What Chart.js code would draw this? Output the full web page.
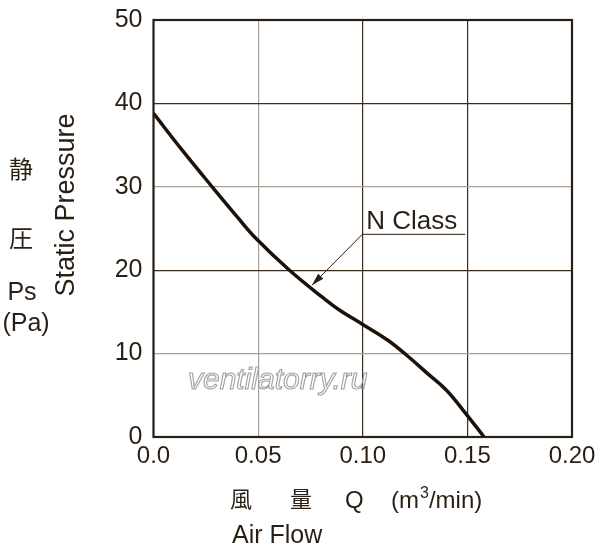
<!DOCTYPE html>
<html>
<head>
<meta charset="utf-8">
<script src="https://cdn.jsdelivr.net/npm/chart.js@4.4.1/dist/chart.umd.min.js"></script>
<style>
  html, body { margin: 0; padding: 0; background: #fff; }
  #wrap { width: 600px; height: 558px; }
</style>
</head>
<body>
<div id="wrap"><canvas id="chart" width="600" height="558"></canvas></div>
<script>
// air flow (m3/min) and static pressure (Pa)
const flow = [0, 0.014, 0.029, 0.040, 0.049, 0.065, 0.081, 0.089, 0.100, 0.112, 0.121, 0.131, 0.140, 0.148, 0.158];
const pressure = [38.8, 34.3, 29.7, 26.4, 23.8, 20.0, 16.7, 15.2, 13.5, 11.6, 9.8, 7.6, 5.6, 3.2, 0];
const xTicks = [0, 0.05, 0.10, 0.15, 0.20];
const xTickLabels = ['0.0', '0.05', '0.10', '0.15', '0.20'];
const yTicks = [0, 10, 20, 30, 40, 50];
const seriesName = 'N Class';

const INK = '#2a1f14';
const DARK_GRID = '#3a2c1c';
const LIGHT_GRID = '#a8a298';
const darkX = [0.10, 0.15];
const darkY = [20, 40];

// label "N Class" + leader arrow, in data units
const callout = { textX: 0.1017, textY: 24.9, lineEndX: 0.149, elbowX: 0.0998, elbowY: 24.3, tipX: 0.0757, tipY: 18.2 };

const near = (list, v) => list.some(d => Math.abs(d - v) < 1e-6);

const decorations = {
  id: 'decorations',
  beforeDatasetsDraw(chart) {
    const { ctx, chartArea: a } = chart;
    ctx.save();
    ctx.strokeStyle = INK;
    ctx.lineWidth = 2.2;
    ctx.strokeRect(a.left, a.top, a.right - a.left, a.bottom - a.top);

    // watermark
    ctx.font = 'italic 30px "Liberation Sans", Arial, sans-serif';
    ctx.strokeStyle = '#a0a0a0';
    ctx.lineWidth = 1.1;
    ctx.textBaseline = 'alphabetic';
    ctx.strokeText('ventilatorry.ru', 188, 389);
    ctx.restore();
  },
  afterDraw(chart) {
    const { ctx, scales: { x, y } } = chart;
    ctx.save();
    ctx.fillStyle = INK;
    ctx.strokeStyle = INK;
    ctx.textBaseline = 'alphabetic';

    // callout
    ctx.font = '26px "Liberation Sans", Arial, sans-serif';
    ctx.textAlign = 'left';
    ctx.fillText(seriesName, x.getPixelForValue(callout.textX), y.getPixelForValue(callout.textY));
    const ex = x.getPixelForValue(callout.elbowX), ey = y.getPixelForValue(callout.elbowY);
    const tx = x.getPixelForValue(callout.tipX), ty = y.getPixelForValue(callout.tipY);
    ctx.lineWidth = 1;
    ctx.beginPath();
    ctx.moveTo(x.getPixelForValue(callout.lineEndX), ey);
    ctx.lineTo(ex, ey);
    ctx.lineTo(tx, ty);
    ctx.stroke();
    const ang = Math.atan2(ty - ey, tx - ex);
    const len = 13, half = 0.28;
    ctx.beginPath();
    ctx.moveTo(tx, ty);
    ctx.lineTo(tx - len * Math.cos(ang - half), ty - len * Math.sin(ang - half));
    ctx.lineTo(tx - len * Math.cos(ang + half), ty - len * Math.sin(ang + half));
    ctx.closePath();
    ctx.fill();

    // left side labels
    ctx.textAlign = 'center';
    ctx.font = '24px "Noto Sans CJK JP", sans-serif';
    ctx.fillText('静', 21, 178);
    ctx.fillText('圧', 21, 247);
    ctx.font = '25px "Liberation Sans", Arial, sans-serif';
    ctx.fillText('Ps', 22, 300);
    ctx.fillText('(Pa)', 26, 331);

    ctx.save();
    ctx.translate(74, 205);
    ctx.rotate(-Math.PI / 2);
    ctx.font = '27px "Liberation Sans", Arial, sans-serif';
    ctx.fillText('Static Pressure', 0, 0);
    ctx.restore();

    // bottom labels
    ctx.textAlign = 'left';
    ctx.font = '22px "Noto Sans CJK JP", sans-serif';
    ctx.fillText('風', 230, 507);
    ctx.fillText('量', 290, 507);
    ctx.font = '24px "Liberation Sans", Arial, sans-serif';
    ctx.fillText('Q', 345, 508);
    ctx.fillText('(m', 391, 508);
    let cx = 391 + ctx.measureText('(m').width;
    ctx.font = '16px "Liberation Sans", Arial, sans-serif';
    ctx.fillText('3', cx + 1, 498);
    cx += ctx.measureText('3').width + 1;
    ctx.font = '24px "Liberation Sans", Arial, sans-serif';
    ctx.fillText('/min)', cx, 508);
    ctx.font = '25px "Liberation Sans", Arial, sans-serif';
    ctx.fillText('Air Flow', 232, 543);
    ctx.restore();
  }
};

new Chart(document.getElementById('chart'), {
  type: 'line',
  data: {
    datasets: [{
      label: seriesName,
      data: flow.map((q, i) => ({ x: q, y: pressure[i] })),
      borderColor: '#1e1208',
      borderWidth: 3.5,
      pointRadius: 0,
      tension: 0.4,
      fill: false
    }]
  },
  options: {
    responsive: false,
    animation: false,
    layout: { padding: { left: 0, right: 28, top: 20, bottom: 0 } },
    plugins: { legend: { display: false }, tooltip: { enabled: false } },
    scales: {
      x: {
        type: 'linear',
        min: 0,
        max: 0.2,
        afterBuildTicks(scale) { scale.ticks = xTicks.map(v => ({ value: v })); },
        afterFit(scale) { scale.height = 121; scale.paddingRight = 0; },
        ticks: {
          color: INK,
          padding: 5,
          font: { family: '"Liberation Sans", Arial, sans-serif', size: 24 },
          maxRotation: 0,
          callback: (v) => xTickLabels[xTicks.findIndex(t => Math.abs(t - v) < 1e-6)]
        },
        grid: {
          drawTicks: false,
          color: (c) => near(darkX, c.tick ? c.tick.value : -1) ? DARK_GRID : LIGHT_GRID,
          lineWidth: 1.2
        },
        border: { display: false }
      },
      y: {
        min: 0,
        max: 50,
        afterBuildTicks(scale) { scale.ticks = yTicks.map(v => ({ value: v })); },
        afterFit(scale) { scale.width = 153.5; scale.paddingTop = 0; scale.paddingBottom = 0; },
        ticks: {
          color: INK,
          padding: 11,
          font: { family: '"Liberation Sans", Arial, sans-serif', size: 25 }
        },
        grid: {
          drawTicks: false,
          color: (c) => near(darkY, c.tick ? c.tick.value : -1) ? DARK_GRID : LIGHT_GRID,
          lineWidth: 1.2
        },
        border: { display: false }
      }
    }
  },
  plugins: [decorations]
});
</script>
</body>
</html>
